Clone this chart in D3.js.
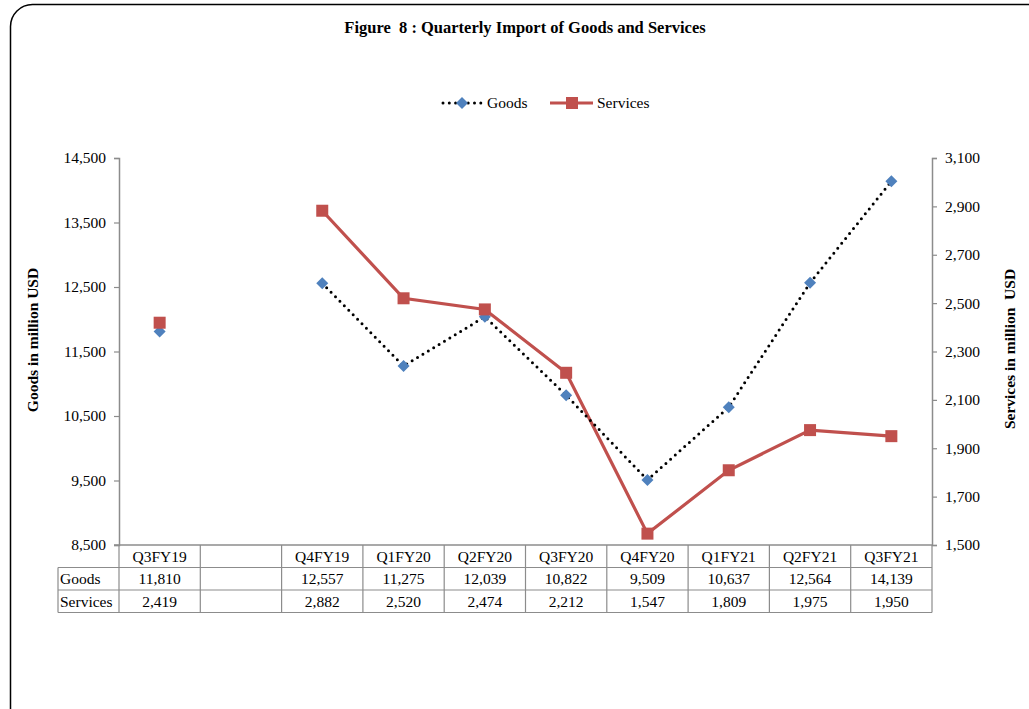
<!DOCTYPE html>
<html>
<head>
<meta charset="utf-8">
<script src="https://cdn.jsdelivr.net/npm/d3@7"></script>
<style>
  body { margin: 0; background: #fff; }
  text { font-family: "Liberation Serif", "Times New Roman", serif; white-space: pre; }
</style>
</head>
<body>
<div class="chart"></div>
<script>
// chart data
var categories = ["Q3FY19", "", "Q4FY19", "Q1FY20", "Q2FY20", "Q3FY20", "Q4FY20", "Q1FY21", "Q2FY21", "Q3FY21"];
var goods = [11810, null, 12557, 11275, 12039, 10822, 9509, 10637, 12564, 14139];
var services = [2419, null, 2882, 2520, 2474, 2212, 1547, 1809, 1975, 1950];
var goodsTicks = [8500, 9500, 10500, 11500, 12500, 13500, 14500];
var servicesTicks = [1500, 1700, 1900, 2100, 2300, 2500, 2700, 2900, 3100];

var widthSVG = 1029;
var heightSVG = 709;

var margins = { top: 158, right: 97, bottom: 164, left: 119 };
var width = widthSVG - margins.left - margins.right;
var height = heightSVG - margins.top - margins.bottom;

var fmt = d3.format(",");
var gray = "#8c8c8c";
var fs = 15.5;

var svg = d3.select(".chart")
  .append("svg")
  .attr("width", widthSVG)
  .attr("height", heightSVG);

// outer rounded frame, runs off the right and bottom
svg.append("rect")
  .attr("x", 10.5)
  .attr("y", 4.5)
  .attr("width", 1060)
  .attr("height", 740)
  .attr("rx", 22)
  .attr("fill", "none")
  .attr("stroke", "#000")
  .attr("stroke-width", 1.5);

svg.append("text")
  .attr("x", 525)
  .attr("y", 33)
  .attr("text-anchor", "middle")
  .attr("font-size", 16.5)
  .attr("font-weight", "bold")
  .text("Figure  8 : Quarterly Import of Goods and Services");

var g = svg.append("g")
  .attr("transform", `translate(${margins.left}, ${margins.top})`);

// scales
var x = d3.scaleBand().domain(d3.range(categories.length)).range([0, width]);
var yLeft = d3.scaleLinear().domain([8500, 14500]).range([height, 0]);
var yRight = d3.scaleLinear().domain([1500, 3100]).range([height, 0]);

// axes
var leftAxis = d3.axisLeft(yLeft).tickValues(goodsTicks).tickFormat(fmt).tickSize(5).tickPadding(8);
var rightAxis = d3.axisRight(yRight).tickValues(servicesTicks).tickFormat(fmt).tickSize(5).tickPadding(8);

var la = g.append("g").call(leftAxis);
var ra = g.append("g").attr("transform", `translate(${width}, 0)`).call(rightAxis);
[la, ra].forEach(function (a) {
  a.attr("font-family", null).attr("font-size", null);
  a.select(".domain").attr("stroke", gray).attr("stroke-width", 1.5);
  a.selectAll(".tick line").attr("stroke", gray).attr("stroke-width", 1.2);
  a.selectAll(".tick text")
    .attr("font-size", fs)
    .attr("fill", "#000");
});

// axis titles
svg.append("text")
  .attr("transform", "translate(38, 340) rotate(-90)")
  .attr("text-anchor", "middle")
  .attr("font-size", fs)
  .attr("font-weight", "bold")
  .text("Goods in million USD");

svg.append("text")
  .attr("transform", "translate(1015, 349) rotate(-90)")
  .attr("text-anchor", "middle")
  .attr("font-size", fs)
  .attr("font-weight", "bold")
  .text("Services in million  USD");

// data table below the plot
var rowH = 22.5;
var labelW = 61;
var table = g.append("g").attr("transform", `translate(0, ${height})`);

// horizontal lines
table.append("line")
  .attr("x1", -5).attr("x2", width)
  .attr("y1", 0).attr("y2", 0)
  .attr("stroke", gray).attr("stroke-width", 1.5);
[1, 2, 3].forEach(function (r) {
  table.append("line")
    .attr("x1", -labelW).attr("x2", width)
    .attr("y1", r * rowH).attr("y2", r * rowH)
    .attr("stroke", gray).attr("stroke-width", 1.2);
});
// vertical lines
table.append("line")
  .attr("x1", -labelW).attr("x2", -labelW)
  .attr("y1", rowH).attr("y2", 3 * rowH)
  .attr("stroke", gray).attr("stroke-width", 1.2);
d3.range(categories.length + 1).forEach(function (i) {
  var xp = i < categories.length ? x(i) : width;
  table.append("line")
    .attr("x1", xp).attr("x2", xp)
    .attr("y1", 0).attr("y2", 3 * rowH)
    .attr("stroke", gray).attr("stroke-width", 1.2);
});

table.selectAll(".cat")
  .data(categories)
  .enter()
  .append("text")
  .attr("x", (d, i) => x(i) + x.bandwidth() / 2)
  .attr("y", rowH - 6)
  .attr("text-anchor", "middle")
  .attr("font-size", fs)
  .text(d => d);

[["Goods", goods], ["Services", services]].forEach(function (row, r) {
  table.append("text")
    .attr("x", -labelW + 2)
    .attr("y", (r + 2) * rowH - 6)
    .attr("font-size", fs)
    .text(row[0]);
  table.selectAll(".v" + r)
    .data(row[1])
    .enter()
    .append("text")
    .attr("x", (d, i) => x(i) + x.bandwidth() / 2)
    .attr("y", (r + 2) * rowH - 6)
    .attr("text-anchor", "middle")
    .attr("font-size", fs)
    .text(d => d == null ? "" : fmt(d));
});

// lines
var cx = i => x(i) + x.bandwidth() / 2;

var goodsLine = d3.line()
  .defined(d => d != null)
  .x((d, i) => cx(i))
  .y(d => yLeft(d));

var servicesLine = d3.line()
  .defined(d => d != null)
  .x((d, i) => cx(i))
  .y(d => yRight(d));

g.append("path")
  .datum(services)
  .attr("d", servicesLine)
  .attr("fill", "none")
  .attr("stroke", "#C0504D")
  .attr("stroke-width", 3.2);

g.append("path")
  .datum(goods)
  .attr("d", goodsLine)
  .attr("fill", "none")
  .attr("stroke", "#000")
  .attr("stroke-width", 3)
  .attr("stroke-linecap", "round")
  .attr("stroke-dasharray", "0 6.3");

// markers
var diamond = d3.symbol().type(d3.symbolSquare).size(72);

g.selectAll(".goodsPt")
  .data(goods.map((v, i) => ({ v: v, i: i })).filter(d => d.v != null))
  .enter()
  .append("path")
  .attr("d", diamond)
  .attr("transform", d => `translate(${cx(d.i)}, ${yLeft(d.v)}) rotate(45)`)
  .attr("fill", "#4F81BD");

g.selectAll(".servicesPt")
  .data(services.map((v, i) => ({ v: v, i: i })).filter(d => d.v != null))
  .enter()
  .append("rect")
  .attr("x", d => cx(d.i) - 6)
  .attr("y", d => yRight(d.v) - 6)
  .attr("width", 12)
  .attr("height", 12)
  .attr("fill", "#C0504D");

// legend
var leg = svg.append("g").attr("transform", "translate(0, 103)");
leg.append("line")
  .attr("x1", 443).attr("x2", 482)
  .attr("y1", 0).attr("y2", 0)
  .attr("stroke", "#000").attr("stroke-width", 3)
  .attr("stroke-linecap", "round")
  .attr("stroke-dasharray", "0 6.3");
leg.append("path")
  .attr("d", diamond)
  .attr("transform", "translate(462, 0) rotate(45)")
  .attr("fill", "#4F81BD");
leg.append("text")
  .attr("x", 487).attr("y", 5)
  .attr("font-size", fs)
  .text("Goods");

leg.append("line")
  .attr("x1", 550).attr("x2", 593)
  .attr("y1", 0).attr("y2", 0)
  .attr("stroke", "#C0504D").attr("stroke-width", 3.2);
leg.append("rect")
  .attr("x", 566).attr("y", -6)
  .attr("width", 12).attr("height", 12)
  .attr("fill", "#C0504D");
leg.append("text")
  .attr("x", 597).attr("y", 5)
  .attr("font-size", fs)
  .text("Services");
</script>
</body>
</html>
